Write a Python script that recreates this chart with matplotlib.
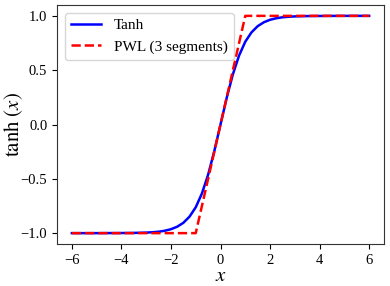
import matplotlib
matplotlib.use("Agg")
import matplotlib.pyplot as plt

plt.rcParams['font.family'] = ['Liberation Serif', 'DejaVu Serif']
plt.rcParams['mathtext.fontset'] = 'stix'

# Tanh curve values
tanh_x = [-6, -5, -4, -3.5, -3, -2.75, -2.5, -2.25, -2, -1.75, -1.5, -1.25, -1, -0.75,
          -0.5, -0.25, 0, 0.25, 0.5, 0.75, 1, 1.25, 1.5, 1.75, 2, 2.25, 2.5, 2.75,
          3, 3.5, 4, 5, 6]
tanh_y = [-1.0, -1.0, -0.999, -0.998, -0.995, -0.992, -0.987, -0.978, -0.964, -0.941,
          -0.905, -0.848, -0.762, -0.635, -0.462, -0.245, 0.0, 0.245, 0.462, 0.635,
          0.762, 0.848, 0.905, 0.941, 0.964, 0.978, 0.987, 0.992, 0.995, 0.998,
          0.999, 1.0, 1.0]

# Piecewise linear approximation (3 segments)
pwl_x = [-6, -1, 1, 6]
pwl_y = [-1, -1, 1, 1]

fig = plt.figure(figsize=(3.9, 2.86), dpi=100)
ax = fig.add_axes([57/390, 1 - 244/286, (384-57)/390, (244-5)/286])

ax.plot(tanh_x, tanh_y, color='blue', linewidth=1.8, label='Tanh')
ax.plot(pwl_x, pwl_y, color='red', linestyle='--', linewidth=1.8, label='PWL (3 segments)')

ax.set_xticks([-6, -4, -2, 0, 2, 4, 6])
ax.set_yticks([-1.0, -0.5, 0.0, 0.5, 1.0])
ax.tick_params(labelsize=10.5)
ax.set_xlabel('$x$', fontsize=15, labelpad=0)
ax.set_ylabel(r'$\mathrm{tanh}\ (x)$', fontsize=15)
ax.yaxis.set_label_coords(-0.098, 0.5)
ax.legend(loc='upper left', fontsize=11)
for s in ax.spines.values():
    s.set_color('#333333')

fig.savefig('out.png', dpi=100)
